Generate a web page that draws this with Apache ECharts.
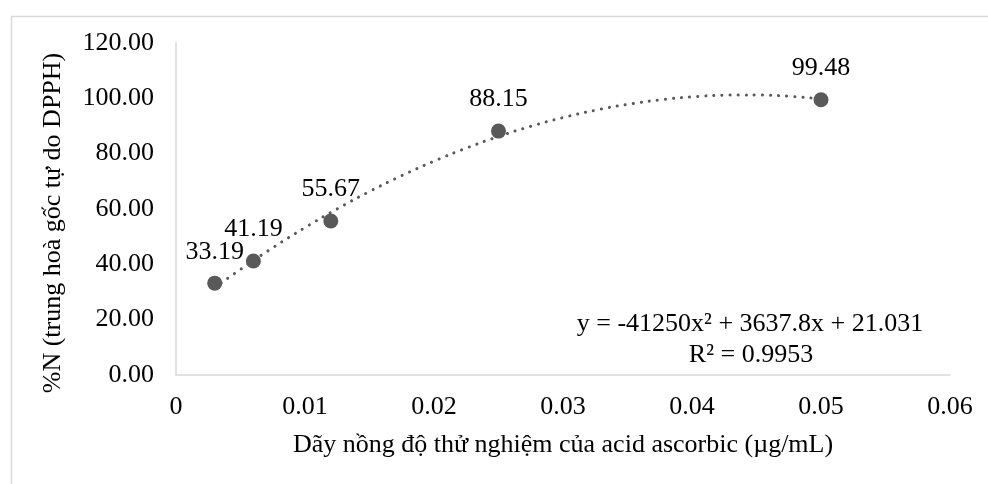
<!DOCTYPE html>
<html>
<head>
<meta charset="utf-8">
<script src="https://cdn.jsdelivr.net/npm/echarts@6/dist/echarts.min.js"></script>
<style>html,body{margin:0;padding:0;background:#fff}#c{width:988px;height:484px}</style>
</head>
<body>
<div id="c"></div>
<script>
// Measured points (concentration µg/mL, %N)
const concentrations = [0.003, 0.006, 0.012, 0.025, 0.05];
const inhibition = [33.19, 41.19, 55.67, 88.15, 99.48];
// Polynomial trendline
const trendX = [0.003, 0.005, 0.0075, 0.01, 0.0125, 0.015, 0.0175, 0.02, 0.0225, 0.025, 0.0275, 0.03, 0.0325, 0.035, 0.0375, 0.04, 0.0425, 0.044, 0.045, 0.0475, 0.05];
const trendY = [31.57, 38.19, 45.99, 53.28, 60.06, 66.32, 72.06, 77.29, 82.00, 86.20, 89.88, 93.04, 95.69, 97.82, 99.44, 100.54, 101.13, 101.23, 101.20, 100.76, 99.80];
const xTicks = [0, 0.01, 0.02, 0.03, 0.04, 0.05, 0.06];
const yTicks = [0, 20, 40, 60, 80, 100, 120];
const equationText = 'y = -41250x² + 3637.8x + 21.031';
const r2Text = 'R² = 0.9953';
const xTitle = 'Dãy nồng độ thử nghiệm của acid ascorbic (µg/mL)';
const yTitle = '%N (trung hoà gốc tự do DPPH)';

const font = '"Liberation Serif", "DejaVu Serif", serif';
const fs = 26;
const chart = echarts.init(document.getElementById('c'), null, {renderer: 'canvas'});
chart.setOption({
  animation: false,
  backgroundColor: '#fff',
  grid: {left: 176, right: 38, top: 43, bottom: 109, containLabel: false},
  xAxis: {
    type: 'value', min: xTicks[0], max: xTicks[xTicks.length - 1], interval: 0.01,
    name: xTitle, nameLocation: 'middle', nameGap: 57,
    nameTextStyle: {fontFamily: font, fontSize: fs, color: '#000'},
    axisLine: {show: true, lineStyle: {color: '#d9d9d9', width: 1.5}},
    axisTick: {show: false},
    splitLine: {show: false},
    axisLabel: {fontFamily: font, fontSize: fs, color: '#000', margin: 19,
      formatter: v => (Math.abs(v) < 1e-9 ? '0' : (+v.toFixed(2)).toString())}
  },
  yAxis: {
    type: 'value', min: yTicks[0], max: yTicks[yTicks.length - 1], interval: 20,
    name: yTitle, nameLocation: 'middle', nameGap: 110, nameRotate: 90,
    nameTextStyle: {fontFamily: font, fontSize: fs, color: '#000', padding: [0, 28, 0, 0]},
    axisLine: {show: true, lineStyle: {color: '#d9d9d9', width: 1.5}},
    axisTick: {show: false},
    splitLine: {show: false},
    axisLabel: {fontFamily: font, fontSize: fs, color: '#000', margin: 22,
      formatter: v => v.toFixed(2)}
  },
  series: [
    {
      type: 'line', data: trendX.map((x, i) => [x, trendY[i]]), smooth: true,
      showSymbol: false, symbol: 'none', z: 2,
      lineStyle: {color: '#595959', width: 3, type: [0.1, 8], cap: 'round', opacity: 1}
    },
    {
      type: 'scatter', data: concentrations.map((x, i) => [x, inhibition[i]]),
      symbolSize: 15, z: 3,
      itemStyle: {color: '#595959', opacity: 1},
      label: {show: true, position: 'top', distance: 11, fontFamily: font, fontSize: fs, color: '#000',
        formatter: p => p.value[1].toFixed(2)}
    }
  ],
  graphic: [
    {type: 'rect', left: 9, top: 14, shape: {width: 1100, height: 600}, silent: true, z: -10,
      style: {fill: 'none', stroke: '#d9d9d9', lineWidth: 1.5}},
    {type: 'text', x: 750, y: 324, z: 10,
      style: {text: equationText, font: fs + 'px ' + font, fill: '#000', textAlign: 'center', textVerticalAlign: 'middle'}},
    {type: 'text', x: 751, y: 355, z: 10,
      style: {text: r2Text, font: fs + 'px ' + font, fill: '#000', textAlign: 'center', textVerticalAlign: 'middle'}}
  ]
});
</script>
</body>
</html>
